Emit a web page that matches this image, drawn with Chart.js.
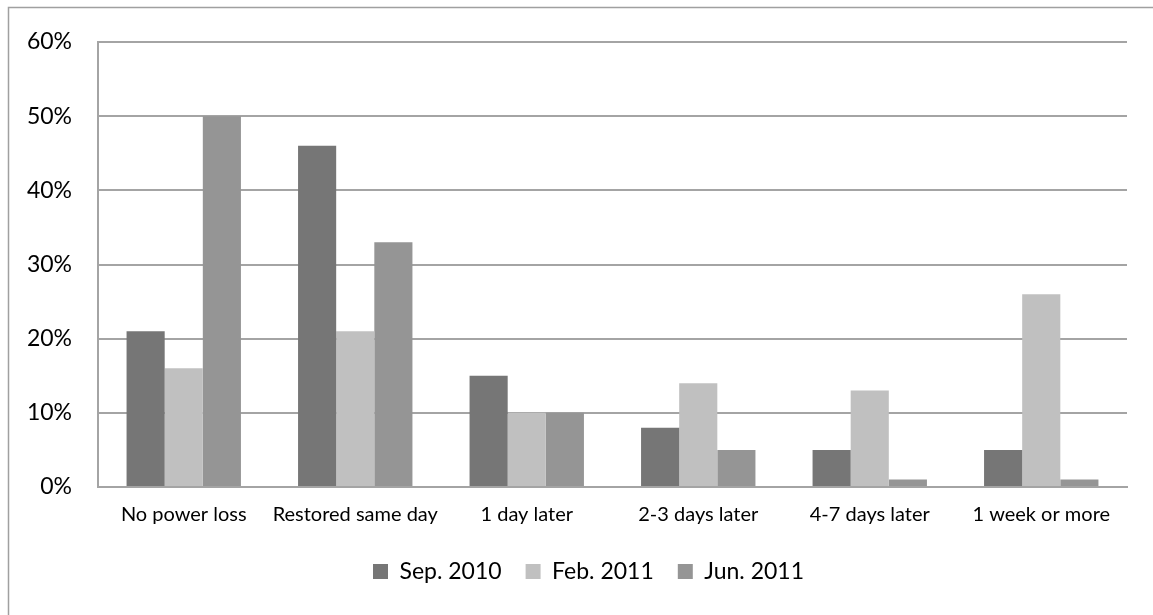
<!DOCTYPE html>
<html>
<head>
<meta charset="utf-8">
<script src="https://cdn.jsdelivr.net/npm/chart.js@4"></script>
<style>
  html, body { margin: 0; padding: 0; background: #fff; overflow: hidden; }
  #wrap { width: 1153px; height: 615px; }
</style>
</head>
<body>
<div id="wrap"><canvas id="c" width="1153" height="615"></canvas></div>
<script>
// Time until power was restored, share of respondents per survey wave
const categories = ['No power loss', 'Restored same day', '1 day later', '2-3 days later', '4-7 days later', '1 week or more'];
const sep2010 = [21, 46, 15, 8, 5, 5];
const feb2011 = [16, 21, 10, 14, 13, 26];
const jun2011 = [50, 33, 10, 5, 1, 1];
const seriesNames = ['Sep. 2010', 'Feb. 2011', 'Jun. 2011'];
const yMin = 0, yMax = 60, yStep = 10;

const FONT = 'Lato, "Noto Sans", sans-serif';
const GRID = '#a4a4a4';

// Outer frame of the chart object (left and top edges)
const framePlugin = {
  id: 'frame',
  beforeDraw(chart) {
    const ctx = chart.ctx;
    ctx.save();
    ctx.fillStyle = '#fff';
    ctx.fillRect(0, 0, chart.width, chart.height);
    ctx.strokeStyle = '#a0a0a0';
    ctx.lineWidth = 1.5;
    ctx.beginPath();
    ctx.moveTo(8.5, chart.height);
    ctx.lineTo(8.5, 7.5);
    ctx.lineTo(chart.width, 7.5);
    ctx.stroke();
    ctx.restore();
  }
};

// The legend is centred on the full frame, which runs past the right edge
const legendShift = {
  id: 'legendShift',
  afterLayout(chart) {
    const lg = chart.legend;
    if (lg) { lg.left += 25; lg.right += 25; }
  }
};

new Chart(document.getElementById('c'), {
  type: 'bar',
  data: {
    labels: categories,
    datasets: [
      { label: seriesNames[0], data: sep2010, backgroundColor: '#767676' },
      { label: seriesNames[1], data: feb2011, backgroundColor: '#c0c0c0' },
      { label: seriesNames[2], data: jun2011, backgroundColor: '#959595' }
    ]
  },
  options: {
    responsive: false,
    animation: false,
    devicePixelRatio: 1,
    layout: { padding: { left: 0, right: 26, top: 42, bottom: 22 } },
    datasets: { bar: { categoryPercentage: 0.667, barPercentage: 1.0, borderWidth: 0 } },
    plugins: {
      tooltip: { enabled: false },
      legend: {
        position: 'bottom',
        labels: {
          boxWidth: 15,
          boxHeight: 15,
          padding: 24,
          color: '#000',
          font: { family: FONT, size: 23 }
        }
      }
    },
    scales: {
      x: {
        grid: { display: false, drawTicks: false },
        border: { display: true, color: GRID, width: 2 },
        ticks: { color: '#000', padding: 16, maxRotation: 0, font: { family: FONT, size: 20 } },
        afterFit(scale) { scale.height = 49; }
      },
      y: {
        min: yMin,
        max: yMax,
        grid: { color: GRID, lineWidth: 2, drawTicks: false },
        border: { display: true, color: GRID, width: 2 },
        ticks: {
          stepSize: yStep,
          padding: 26,
          color: '#000',
          font: { family: FONT, size: 23 },
          callback: v => v + '%'
        },
        afterFit(scale) { scale.width = 98; }
      }
    }
  },
  plugins: [framePlugin, legendShift]
});
</script>
</body>
</html>
